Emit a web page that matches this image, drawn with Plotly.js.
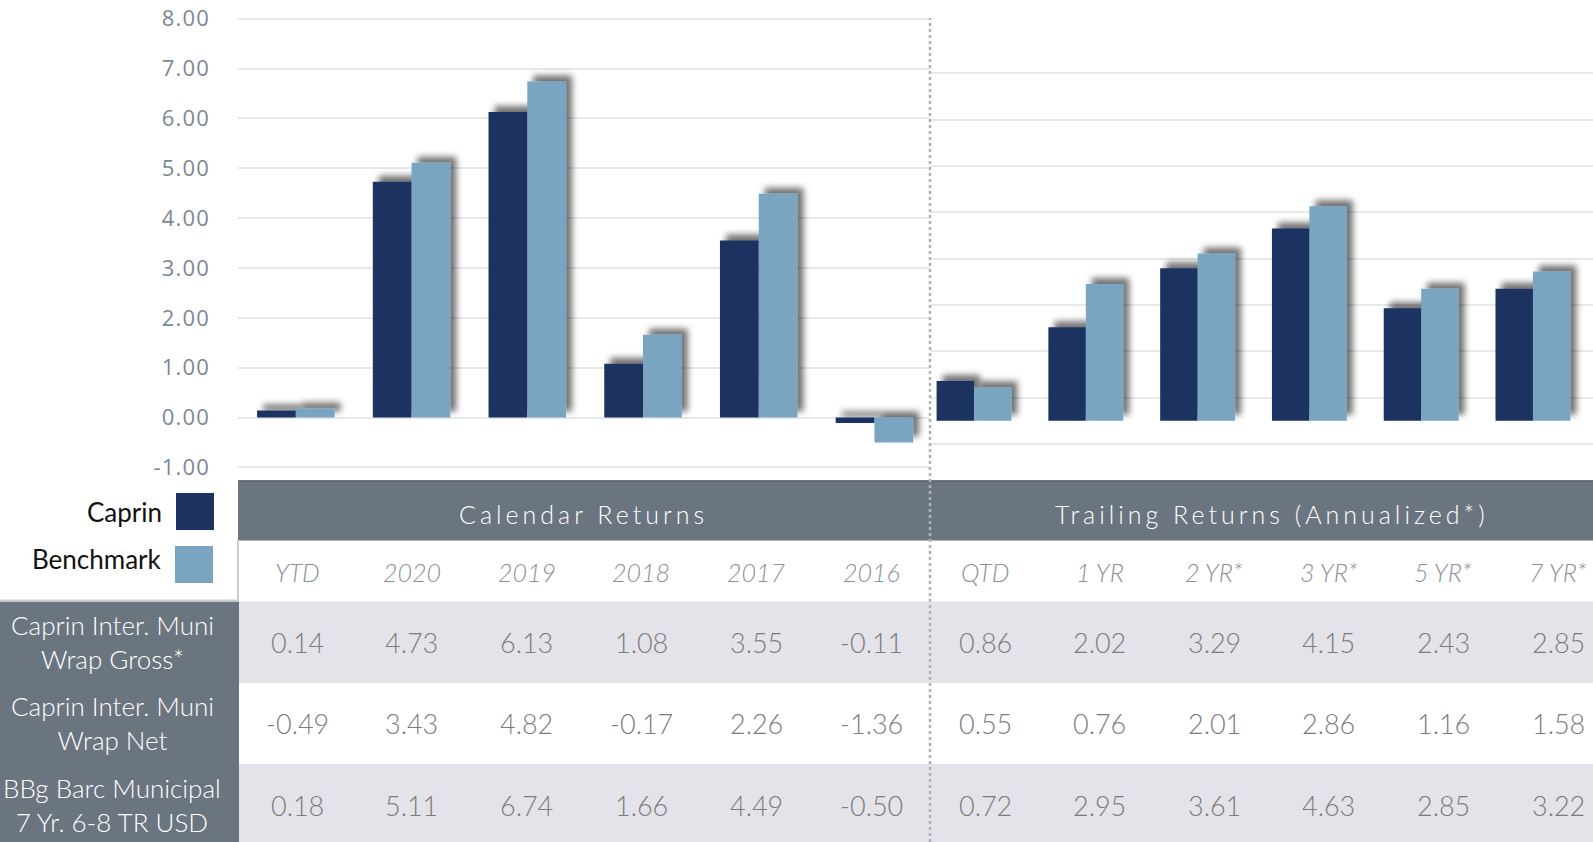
<!DOCTYPE html>
<html>
<head>
<meta charset="utf-8">
<script src="https://cdn.plot.ly/plotly-3.0.1.min.js"></script>
<style>
  html, body { margin: 0; padding: 0; background: #ffffff; }
  #chart { width: 1593px; height: 842px; }
</style>
</head>
<body>
<div id="chart"></div>
<script>
// ---------------- DATA ----------------
const calendarCategories = ['YTD', '2020', '2019', '2018', '2017', '2016'];
const calendarGross = [0.14, 4.73, 6.13, 1.08, 3.55, -0.11];
const calendarNet = [-0.49, 3.43, 4.82, -0.17, 2.26, -1.36];
const calendarBenchmark = [0.18, 5.11, 6.74, 1.66, 4.49, -0.50];

const trailingCategories = ['QTD', '1 YR', '2 YR*', '3 YR*', '5 YR*', '7 YR*'];
const trailingGross = [0.86, 2.02, 3.29, 4.15, 2.43, 2.85];
const trailingNet = [0.55, 0.76, 2.01, 2.86, 1.16, 1.58];
const trailingBenchmark = [0.72, 2.95, 3.61, 4.63, 2.85, 3.22];

const rowLabels = ['Caprin Inter. Muni<br>Wrap Gross*', 'Caprin Inter. Muni<br>Wrap Net', 'BBg Barc Municipal<br>7 Yr. 6-8 TR USD'];
const seriesNames = ['Caprin', 'Benchmark'];
const sectionTitles = ['Calendar Returns', 'Trailing Returns (Annualized*)'];
const leftTickValues = [-1, 0, 1, 2, 3, 4, 5, 6, 7, 8];
const rightGridValues = [-0.5, 0.5, 1.5, 2.5, 3.5, 4.5, 5.5, 6.5, 7.5];

// ---------------- STYLE / GEOMETRY ----------------
const W = 1593, H = 842;
const NAVY = '#1c3260';
const STEEL = '#79a5c1';
const SLATE = '#6b7580';
const BAND = '#e3e3e9';
const GRID = '#e6e8ea';
const px = x => x / W;
const py = y => 1 - y / H;

const plotTop = 8.75, plotBottom = 477.4;
const yDomain = [py(plotBottom), py(plotTop)];

const traces = [
  { type: 'bar', name: seriesNames[0], x: calendarCategories, y: calendarGross, xaxis: 'x', yaxis: 'y',
    marker: { color: NAVY }, hoverinfo: 'skip' },
  { type: 'bar', name: seriesNames[1], x: calendarCategories, y: calendarBenchmark, xaxis: 'x', yaxis: 'y',
    marker: { color: STEEL }, hoverinfo: 'skip' },
  { type: 'bar', name: seriesNames[0], x: trailingCategories, y: trailingGross, xaxis: 'x2', yaxis: 'y2',
    marker: { color: NAVY }, hoverinfo: 'skip' },
  { type: 'bar', name: seriesNames[1], x: trailingCategories, y: trailingBenchmark, xaxis: 'x2', yaxis: 'y2',
    marker: { color: STEEL }, hoverinfo: 'skip' }
];

// ---------------- TABLE (shapes + annotations) ----------------
const shapes = [];
const annotations = [];

// header band
shapes.push({ type: 'rect', xref: 'paper', yref: 'paper', x0: px(238), x1: px(W), y0: py(540.5), y1: py(480.5),
  fillcolor: SLATE, line: { width: 0 }, layer: 'below' });
shapes.push({ type: 'line', xref: 'paper', yref: 'paper', x0: px(238), x1: px(W), y0: py(481), y1: py(481),
  line: { color: '#5a636d', width: 1.5 } });
// row label column
shapes.push({ type: 'rect', xref: 'paper', yref: 'paper', x0: 0, x1: px(239), y0: 0, y1: py(601.5),
  fillcolor: SLATE, line: { width: 0 }, layer: 'below' });
// banded rows
shapes.push({ type: 'rect', xref: 'paper', yref: 'paper', x0: px(239), x1: px(W), y0: py(683), y1: py(601.5),
  fillcolor: BAND, line: { width: 0 }, layer: 'below' });
shapes.push({ type: 'rect', xref: 'paper', yref: 'paper', x0: px(239), x1: px(W), y0: 0, y1: py(764),
  fillcolor: BAND, line: { width: 0 }, layer: 'below' });
// legend area borders
shapes.push({ type: 'line', xref: 'paper', yref: 'paper', x0: px(238), x1: px(238), y0: py(601), y1: py(540),
  line: { color: '#c9cdd2', width: 2 } });
shapes.push({ type: 'line', xref: 'paper', yref: 'paper', x0: 0, x1: px(238), y0: py(600.5), y1: py(600.5),
  line: { color: '#c9cdd2', width: 2 } });
// legend squares
shapes.push({ type: 'rect', xref: 'paper', yref: 'paper', x0: px(176), x1: px(214), y0: py(530), y1: py(493),
  fillcolor: NAVY, line: { width: 0 } });
shapes.push({ type: 'rect', xref: 'paper', yref: 'paper', x0: px(175), x1: px(213), y0: py(583), y1: py(546),
  fillcolor: STEEL, line: { width: 0 } });
// dotted separator
shapes.push({ type: 'line', xref: 'paper', yref: 'paper', x0: px(930), x1: px(930), y0: 0, y1: py(18),
  line: { color: '#aeb3ba', width: 2.5, dash: 'dot' } });

const tableFont = 'Lato, "Open Sans", sans-serif';

// legend text
annotations.push({ xref: 'paper', yref: 'paper', x: px(164), y: py(512), text: seriesNames[0], showarrow: false,
  xanchor: 'right', yanchor: 'middle', font: { family: tableFont, size: 26, color: '#111111' } });
annotations.push({ xref: 'paper', yref: 'paper', x: px(164), y: py(559), text: seriesNames[1], showarrow: false,
  xanchor: 'right', yanchor: 'middle', font: { family: tableFont, size: 26, color: '#111111' } });

// section titles
annotations.push({ xref: 'paper', yref: 'paper', x: px(583), y: py(514), text: sectionTitles[0], showarrow: false,
  xanchor: 'center', yanchor: 'middle', font: { family: tableFont, size: 25, color: '#ffffff', weight: 300 } });
annotations.push({ xref: 'paper', yref: 'paper', x: px(1272), y: py(514), text: sectionTitles[1], showarrow: false,
  xanchor: 'center', yanchor: 'middle', font: { family: tableFont, size: 25, color: '#ffffff', weight: 300 } });

// row labels
const rowY = [642, 723, 805];
rowLabels.forEach((t, r) => {
  annotations.push({ xref: 'paper', yref: 'paper', x: px(112), y: py(rowY[r]), text: t, showarrow: false,
    xanchor: 'center', yanchor: 'middle', align: 'center',
    font: { family: tableFont, size: 26, color: '#ffffff', weight: 300 } });
});

// columns
const calX = i => 297 + i * 114.8;
const trailX = i => 985 + i * 114.6;
const rowsCal = [calendarGross, calendarNet, calendarBenchmark];
const rowsTrail = [trailingGross, trailingNet, trailingBenchmark];
function addColumn(xp, label, vals) {
  annotations.push({ xref: 'paper', yref: 'paper', x: px(xp), y: py(572), text: label, showarrow: false,
    xanchor: 'center', yanchor: 'middle',
    font: { family: tableFont, size: 25, color: '#8b9099', style: 'italic', weight: 300 } });
  vals.forEach((v, r) => {
    annotations.push({ xref: 'paper', yref: 'paper', x: px(xp), y: py(rowY[r]), text: v.toFixed(2), showarrow: false,
      xanchor: 'center', yanchor: 'middle',
      font: { family: tableFont, size: 27, color: '#7c7c7c', weight: 300 } });
  });
}
calendarCategories.forEach((c, i) => addColumn(calX(i), c, rowsCal.map(r => r[i])));
trailingCategories.forEach((c, i) => addColumn(trailX(i), c, rowsTrail.map(r => r[i])));

// ---------------- LAYOUT ----------------
const layout = {
  width: W, height: H,
  margin: { l: 0, r: 0, t: 0, b: 0 },
  paper_bgcolor: '#ffffff', plot_bgcolor: 'rgba(0,0,0,0)',
  showlegend: false,
  barmode: 'group', bargap: 0.33, bargroupgap: 0,
  xaxis: { type: 'category', anchor: 'y', domain: [px(238), px(930)], range: [-0.5, 5.48],
    showticklabels: false, showgrid: false, zeroline: false, showline: false, ticks: '', fixedrange: true },
  yaxis: { anchor: 'x', domain: yDomain, range: [-1.2, 8.2], tickvals: leftTickValues,
    ticktext: leftTickValues.map(v => v.toFixed(2)),
    showgrid: true, gridcolor: GRID, gridwidth: 2, zeroline: false, showline: false, ticks: '',
    ticklabelstandoff: 27,
    tickfont: { family: '"Open Sans", sans-serif', size: 22, color: '#7d8895' }, fixedrange: true },
  xaxis2: { type: 'category', anchor: 'y2', domain: [px(930), 1], range: [-0.394, 5.537],
    showticklabels: false, showgrid: false, zeroline: false, showline: false, ticks: '', fixedrange: true },
  yaxis2: { anchor: 'x2', domain: yDomain, range: [-1.2246, 8.897], tickvals: rightGridValues,
    showticklabels: false, showgrid: true, gridcolor: GRID, gridwidth: 2, zeroline: false,
    showline: false, ticks: '', fixedrange: true },
  shapes: shapes,
  annotations: annotations
};

Plotly.newPlot('chart', traces, layout, { staticPlot: true, displayModeBar: false }).then(gd => {
  const NS = 'http://www.w3.org/2000/svg';
  const svg = gd.querySelector('svg.main-svg');
  let defs = svg.querySelector('defs');
  if (!defs) { defs = document.createElementNS(NS, 'defs'); svg.insertBefore(defs, svg.firstChild); }
  const f = document.createElementNS(NS, 'filter');
  f.setAttribute('id', 'barshadow');
  f.setAttribute('filterUnits', 'userSpaceOnUse');
  f.setAttribute('x', '-2000'); f.setAttribute('y', '-2000');
  f.setAttribute('width', '6000'); f.setAttribute('height', '6000');
  const ds = document.createElementNS(NS, 'feDropShadow');
  ds.setAttribute('dx', '6'); ds.setAttribute('dy', '-6');
  ds.setAttribute('stdDeviation', '3');
  ds.setAttribute('flood-color', '#000000'); ds.setAttribute('flood-opacity', '0.55');
  f.appendChild(ds);
  defs.appendChild(f);
  gd.querySelectorAll('.barlayer .trace').forEach(t => t.setAttribute('filter', 'url(#barshadow)'));
  gd.querySelectorAll('.annotation-text').forEach(t => {
    if (sectionTitles.indexOf(t.textContent) >= 0) t.style.letterSpacing = '4px';
  });
  gd.querySelectorAll('.ytick text').forEach(t => { t.style.letterSpacing = '1.2px'; });
});
</script>
</body>
</html>
